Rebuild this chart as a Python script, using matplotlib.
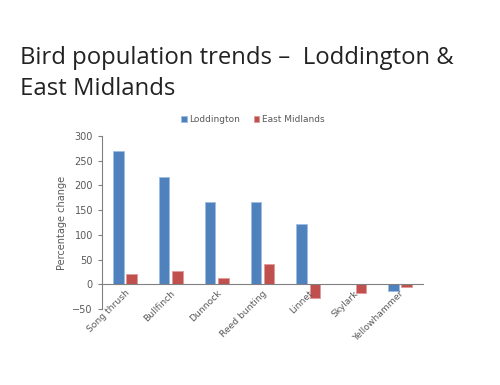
import matplotlib.pyplot as plt
import numpy as np

birds = ["Song thrush", "Bullfinch", "Dunnock", "Reed bunting", "Linnet", "Skylark", "Yellowhammer"]
loddington = [270, 216, 166, 166, 123, 0, -13]
east_midlands = [21, 27, 12, 41, -27, -17, -5]

blue = "#4F81BD"
red = "#C0504D"
grey = "#595959"

fig = plt.figure(figsize=(5, 3.85), dpi=100)
fig.text(0.04, 0.753, "Bird population trends \u2013  Loddington &\nEast Midlands",
         fontsize=17.2, family="Open Sans", color="#222222",
         va="baseline", linespacing=1.42)

ax = fig.add_axes([0.204, 0.197, 0.642, 0.45])
x = np.arange(len(birds))
w = 0.23
ax.bar(x - 0.145, loddington, w, color=blue, edgecolor="#9DBDE3", linewidth=0.6, label="Loddington")
ax.bar(x + 0.145, east_midlands, w, color=red, edgecolor="#E09A98", linewidth=0.6, label="East Midlands")

ax.set_xlim(-0.5, 6.5)
ax.set_ylim(-50, 300)
ax.set_yticks(range(-50, 301, 50))
ax.set_xticks(x)
ax.set_xticklabels(birds)

for s in ["top", "right"]:
    ax.spines[s].set_visible(False)
ax.spines["bottom"].set_position(("data", 0))
ax.spines["bottom"].set_color("#808080")
ax.spines["left"].set_color("#808080")
ax.tick_params(axis="x", length=0, pad=3, labelsize=6.6, labelcolor=grey)
ax.tick_params(axis="y", length=3, color="#808080", labelsize=7, labelcolor=grey)
plt.setp(ax.get_xticklabels(), rotation=45, ha="right", rotation_mode="anchor")
ax.set_ylabel("Percentage change", fontsize=7, color=grey, labelpad=4)

ax.legend(loc="lower center", bbox_to_anchor=(0.47, 1.02), ncol=2, frameon=False,
          fontsize=6.5, labelcolor=grey, handlelength=0.6, handleheight=0.6,
          handletextpad=0.3, columnspacing=1.5)

fig.savefig("out.png", dpi=100)
